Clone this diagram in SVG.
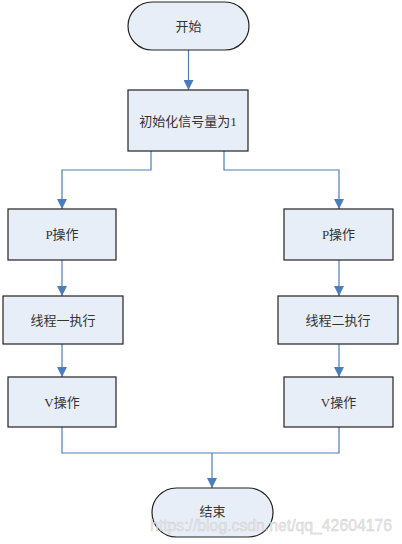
<svg xmlns="http://www.w3.org/2000/svg" width="402" height="544" viewBox="0 0 402 544">
<defs>
<style>
.box{fill:#e8eef8;stroke:#222;stroke-width:1.2}
.lbl{font-family:"Liberation Serif","Noto Sans CJK SC",serif;font-size:13px;fill:#333;text-anchor:middle;dominant-baseline:central}
.con{fill:none;stroke:#4a7ebb;stroke-width:1.2}
.wm{font-family:"Liberation Sans","DejaVu Sans",sans-serif;font-size:16px;fill:#e8e8e8;stroke:#c8c8c8;stroke-width:0.4;opacity:0.9}
</style>
<marker id="ah" viewBox="0 0 10 10" refX="10" refY="5" markerWidth="10" markerHeight="10" markerUnits="userSpaceOnUse" orient="auto">
<path d="M0,0 L10,5 L0,10 z" fill="#4a7ebb"/>
</marker>
</defs>
<rect width="402" height="544" fill="#fff"/>
<g id="connectors">
<path class="con" d="M188.5,50 V90" marker-end="url(#ah)"/>
<path class="con" d="M151,151 V170 H62 V209" marker-end="url(#ah)"/>
<path class="con" d="M224,151 V170 H339 V209" marker-end="url(#ah)"/>
<path class="con" d="M62,260 V296" marker-end="url(#ah)"/>
<path class="con" d="M339,260 V296" marker-end="url(#ah)"/>
<path class="con" d="M62,344 V377" marker-end="url(#ah)"/>
<path class="con" d="M339,344 V377" marker-end="url(#ah)"/>
<path class="con" d="M62,427 V453 H339 V427"/>
<path class="con" d="M212,453 V488" marker-end="url(#ah)"/>
</g>
<g id="start"><rect class="box" x="128" y="2" width="121" height="48" rx="24"/><text class="lbl" x="188.5" y="26">开始</text></g>
<g id="init"><rect class="box" x="128" y="90" width="120" height="61"/><text class="lbl" x="188" y="121">初始化信号量为1</text></g>
<g id="p1"><rect class="box" x="8" y="209" width="108" height="51"/><text class="lbl" x="62" y="234.5">P操作</text></g>
<g id="p2"><rect class="box" x="284" y="209" width="109" height="51"/><text class="lbl" x="338.5" y="234.5">P操作</text></g>
<g id="t1"><rect class="box" x="3" y="296" width="120" height="48"/><text class="lbl" x="63" y="320">线程一执行</text></g>
<g id="t2"><rect class="box" x="278" y="296" width="120" height="48"/><text class="lbl" x="338" y="320">线程二执行</text></g>
<g id="v1"><rect class="box" x="8" y="377" width="108" height="50"/><text class="lbl" x="62" y="402">V操作</text></g>
<g id="v2"><rect class="box" x="284" y="377" width="109" height="50"/><text class="lbl" x="338.5" y="402">V操作</text></g>
<g id="end"><rect class="box" x="152" y="488" width="121" height="49" rx="24.5"/><text class="lbl" x="212.5" y="511">结束</text></g>
<text class="wm" x="150" y="531" textLength="242" lengthAdjust="spacingAndGlyphs">https://blog.csdn.net/qq_42604176</text>
</svg>
